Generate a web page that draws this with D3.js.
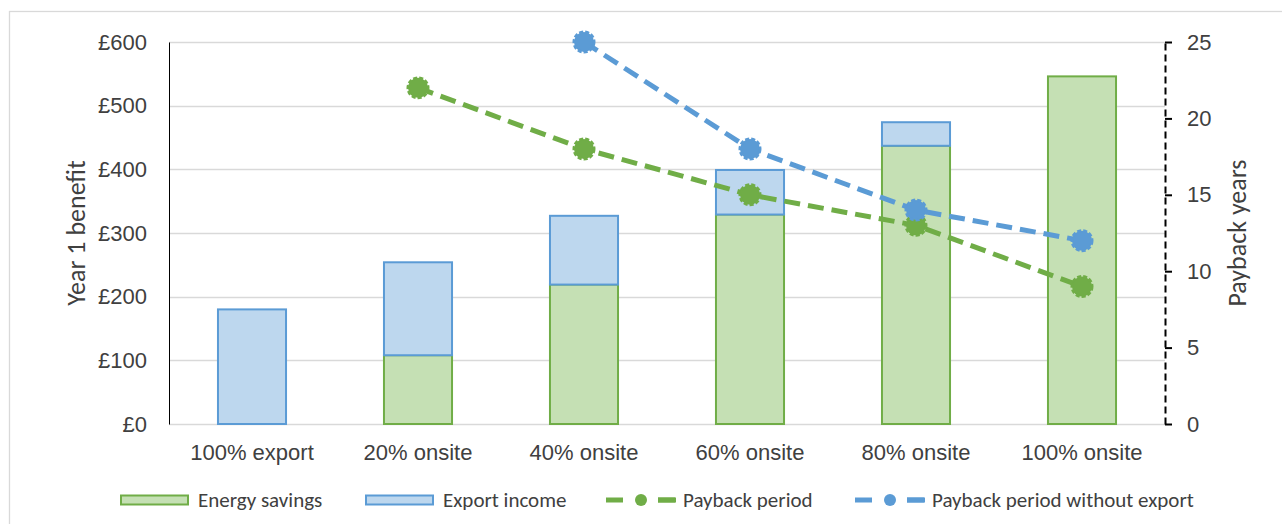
<!DOCTYPE html>
<html><head><meta charset="utf-8">
<script src="https://cdn.jsdelivr.net/npm/d3@7"></script>
<style>body{margin:0;background:#fff;} svg{display:block;font-family:Carlito,Calibri,Lato,sans-serif;}</style>
</head><body><svg id="c" width="1282" height="524"></svg>
<script>
const categories = ["100% export","20% onsite","40% onsite","60% onsite","80% onsite","100% onsite"];
const energySavings = [0,108,219,329,437,546];
const exportIncome = [180,146,108,70,37,0];
const payback = [null,22,18,15,13,9];
const paybackNoExport = [null,null,25,18,14,12];
const leftTicks = [0,100,200,300,400,500,600];
const rightTicks = [0,5,10,15,20,25];

const svg = d3.select("#c");
const L=169, R=1165, T=42, B=424;
const txt="#404040";
const gGreen="#70AD47", gFill="#C5E0B4", bBlue="#5B9BD5", bFill="#BDD7EE";

svg.append("rect").attr("x",9.5).attr("y",11.5).attr("width",1300).attr("height",600)
  .attr("fill","none").attr("stroke","#D9D9D9").attr("stroke-width",1.3);

const x = d3.scaleBand().domain(categories).range([L,R]).paddingInner(0.59).paddingOuter(0.295);
const y = d3.scaleLinear().domain([0,600]).range([B,T]);
const y2 = d3.scaleLinear().domain([0,25]).range([B,T]);

// gridlines
svg.append("g").selectAll("line").data(leftTicks).join("line")
  .attr("x1",L).attr("x2",R).attr("y1",d=>Math.round(y(d))+0.5).attr("y2",d=>Math.round(y(d))+0.5)
  .attr("stroke","#D9D9D9").attr("stroke-width",1.5);

// left axis
const la = svg.append("g").attr("transform",`translate(${L},0)`)
  .call(d3.axisLeft(y).tickValues(leftTicks).tickFormat(d=>"£"+d).tickSize(0).tickPadding(22));
la.select(".domain").attr("stroke","#000").attr("stroke-width",1);
la.selectAll("text").attr("fill",txt).attr("font-size",22).attr("font-family","inherit");

// right axis
const ra = svg.append("g").attr("transform",`translate(${R},0)`)
  .call(d3.axisRight(y2).tickValues(rightTicks).tickSize(7).tickPadding(15).tickSizeOuter(0));
ra.select(".domain").attr("stroke","#000").attr("stroke-width",2).attr("stroke-dasharray","7,4");
ra.selectAll(".tick line").attr("stroke","#000").attr("stroke-width",2);
ra.selectAll("text").attr("fill",txt).attr("font-size",22).attr("font-family","inherit");

// bars
const bars = svg.append("g");
categories.forEach((c,i)=>{
  if(energySavings[i]>0) bars.append("rect").attr("x",x(c)).attr("width",x.bandwidth())
    .attr("y",y(energySavings[i])).attr("height",y(0)-y(energySavings[i]))
    .attr("fill",gFill).attr("stroke",gGreen).attr("stroke-width",2);
  if(exportIncome[i]>0) bars.append("rect").attr("x",x(c)).attr("width",x.bandwidth())
    .attr("y",y(energySavings[i]+exportIncome[i])).attr("height",y(energySavings[i])-y(energySavings[i]+exportIncome[i]))
    .attr("fill",bFill).attr("stroke",bBlue).attr("stroke-width",2);
});

// category labels
const xa = svg.append("g").attr("transform",`translate(0,${B})`)
  .call(d3.axisBottom(x).tickSize(0).tickPadding(20));
xa.select(".domain").remove();
xa.selectAll("text").attr("fill",txt).attr("font-size",22).attr("font-family","inherit");

// lines
function drawLine(vals,col){
  const pts = categories.map((c,i)=>({c,v:vals[i]})).filter(d=>d.v!=null);
  const line = d3.line().x(d=>x(d.c)+x.bandwidth()/2).y(d=>y2(d.v));
  svg.append("path").datum(pts).attr("d",line).attr("fill","none").attr("stroke",col)
    .attr("stroke-width",5).attr("stroke-dasharray","16,8");
  svg.append("g").selectAll("circle").data(pts).join("circle")
    .attr("cx",d=>x(d.c)+x.bandwidth()/2).attr("cy",d=>y2(d.v)).attr("r",10)
    .attr("fill",col).attr("stroke",col).attr("stroke-width",3).attr("stroke-dasharray","4,2");
}
drawLine(payback,gGreen);
drawLine(paybackNoExport,bBlue);

// titles
svg.append("text").attr("transform","translate(85,233) rotate(-90)").attr("text-anchor","middle")
  .attr("fill",txt).attr("font-size",26).text("Year 1 benefit");
svg.append("text").attr("transform","translate(1246,233) rotate(-90)").attr("text-anchor","middle")
  .attr("fill",txt).attr("font-size",26).text("Payback years");

// legend
const legend = [
  {name:"Energy savings",type:"bar",fill:gFill,stroke:gGreen,x:121},
  {name:"Export income",type:"bar",fill:bFill,stroke:bBlue,x:366},
  {name:"Payback period",type:"line",stroke:gGreen,x:606},
  {name:"Payback period without export",type:"line",stroke:bBlue,x:855}
];
const lg = svg.append("g");
const ly = 500;
legend.forEach(d=>{
  if(d.type==="bar"){
    lg.append("rect").attr("x",d.x).attr("y",ly-4.5).attr("width",67).attr("height",9)
      .attr("fill",d.fill).attr("stroke",d.stroke).attr("stroke-width",2);
  } else {
    lg.append("line").attr("x1",d.x).attr("x2",d.x+70).attr("y1",ly).attr("y2",ly)
      .attr("stroke",d.stroke).attr("stroke-width",5).attr("stroke-dasharray","17,35");
    lg.append("line").attr("x1",d.x+52).attr("x2",d.x+70).attr("y1",ly).attr("y2",ly)
      .attr("stroke",d.stroke).attr("stroke-width",5);
    lg.append("circle").attr("cx",d.x+35).attr("cy",ly).attr("r",6).attr("fill",d.stroke);
  }
  lg.append("text").attr("x",d.x+77).attr("y",ly).attr("dy","0.35em").attr("fill",txt)
    .attr("font-size",21).text(d.name);
});
</script></body></html>
